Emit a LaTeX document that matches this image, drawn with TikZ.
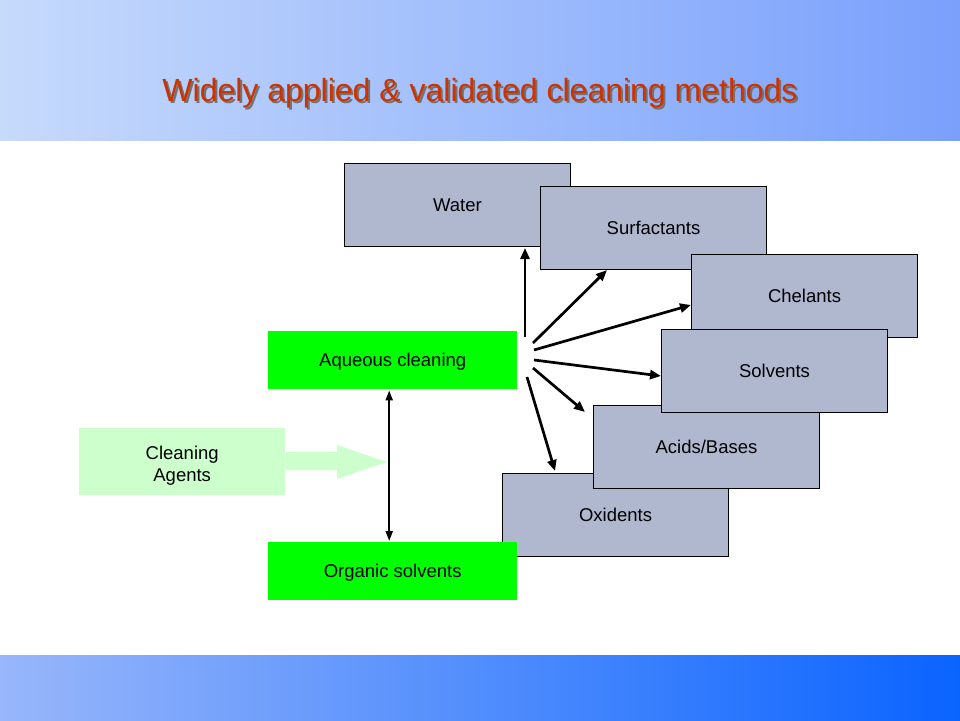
\documentclass[tikz,border=0pt]{standalone}
\usepackage{fontspec}
\setmainfont{Liberation Sans}
\usetikzlibrary{arrows.meta,calc}
\definecolor{boxgray}{RGB}{176,184,208}
\definecolor{limegreen}{RGB}{0,255,0}
\definecolor{palegreen}{RGB}{204,255,204}
\definecolor{titlered}{RGB}{204,51,0}
\definecolor{headL}{RGB}{198,218,252}
\definecolor{headR}{RGB}{122,160,252}
\definecolor{footL}{RGB}{152,182,250}
\definecolor{footR}{RGB}{10,100,255}
\begin{document}
\begin{tikzpicture}[x=1pt,y=-1pt,
  txt/.style={font=\fontsize{18.5}{22}\selectfont, align=center, text=black, text height=13.3pt, text depth=0pt},
  graybox/.style={txt, draw=black, line width=1pt, fill=boxgray, minimum width=226pt, minimum height=83pt, inner sep=0pt, anchor=north west},
  greenbox/.style={txt, fill=limegreen, minimum width=249pt, minimum height=58pt, inner sep=0pt, anchor=north west},
  agentbox/.style={txt, text height=39pt, fill=palegreen, minimum width=206pt, minimum height=67pt, inner sep=0pt, anchor=north west},
  fan/.style={line width=2.7pt, -{Triangle[length=11pt,width=9pt]}},
  dbl/.style={line width=2pt, {Triangle[length=10pt,width=7pt]}-{Triangle[length=10pt,width=7pt]}},
  titletxt/.style={font=\fontsize{32}{38}\selectfont, text height=23pt, text depth=0pt}
]
\useasboundingbox (0,0) rectangle (960,720);
\fill[white] (0,0) rectangle (960,720);
% header and footer bands
\shade[left color=headL, right color=headR] (0,0) rectangle (960,140);
\shade[left color=footL, right color=footR] (0,655) rectangle (960,720);
% title with its shadow
\node[titletxt, text=black!55] (titleshadow) at (482,92) {Widely applied \& validated cleaning methods};
\node[titletxt, text=titlered] (title) at (480,90) {Widely applied \& validated cleaning methods};

% gray boxes (drawing order matters for overlaps)
\node[graybox] (water) at (344,163) {Water};
\node[graybox] (surf) at (540,186) {Surfactants};
\node[graybox] (chel) at (691,254) {Chelants};
\node[graybox] (oxid) at (502,473) {Oxidents};
\node[graybox] (acid) at (593,405) {Acids/Bases};
\node[graybox] (solv) at (661,329) {Solvents};

% green boxes
\node[greenbox] (aq) at (268,331) {Aqueous cleaning};
\node[greenbox] (org) at (268,542) {Organic solvents};
\node[agentbox] (agents) at (79,428) {Cleaning\\Agents};

% block arrow from Cleaning Agents
\fill[palegreen] (agents.east |- 0,452) -- (337,452) -- (337,445) -- (387,462) -- (337,479) -- (337,470) -- (agents.east |- 0,470) -- cycle;

% double arrow between aqueous and organic
\draw[dbl] ($(aq.south)+(-3.5,1)$) -- ($(org.north)+(-3.5,-1)$);

% fan of arrows
\coordinate (s1) at (525,337);
\coordinate (s2) at (533,343);
\coordinate (s3) at (534,350);
\coordinate (s4) at (534,360);
\coordinate (s5) at (533,368);
\coordinate (s6) at (527,377);
\draw[fan] (s1) -- ($(water.south west)+(181,1)$);
\draw[fan] (s2) -- ($(surf.south west)+(67,0)$);
\draw[fan] (s3) -- ($(chel.north west)+(0,51)$);
\draw[fan] (s4) -- ($(solv.north west)+(0,47)$);
\draw[fan] (s5) -- ($(acid.north west)+(-8,7)$);
\draw[fan] (s6) -- ($(oxid.north west)+(53,-2)$);
\end{tikzpicture}
\end{document}
